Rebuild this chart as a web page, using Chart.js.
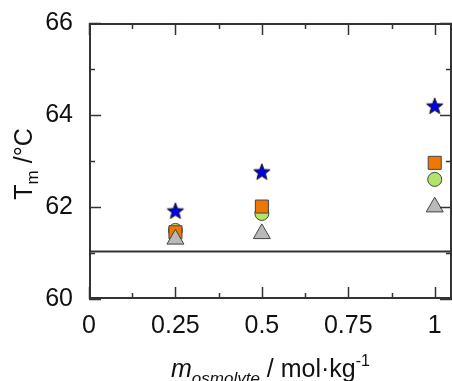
<!DOCTYPE html>
<html>
<head>
<meta charset="utf-8">
<script src="https://cdn.jsdelivr.net/npm/chart.js@4"></script>
<style>
  html, body { margin: 0; padding: 0; background: #fff; }
  #wrap { width: 452px; height: 381px; }
</style>
</head>
<body>
<div id="wrap"><canvas id="c" width="452" height="381"></canvas></div>
<script>
// molality of osmolyte (mol/kg)
const molality = [0.25, 0.5, 1];
const starTm = [61.92, 62.77, 64.2];
const squareTm = [61.45, 62.01, 62.96];
const circleTm = [61.49, 61.86, 62.6];
const triangleTm = [61.3, 61.42, 62.0];
const referenceTm = 61.03;
const xTicks = [0, 0.25, 0.5, 0.75, 1];
const yTicks = [60, 62, 64, 66];

const FONT = '"Liberation Sans", Arial, sans-serif';
const INK = '#333333';

// filled 5-point star marker
function makeStar(R, fill) {
  const size = Math.ceil(R * 2 + 4);
  const cv = document.createElement('canvas');
  cv.width = size; cv.height = size;
  const g = cv.getContext('2d');
  const cx = size / 2, cy = size / 2 + R * 0.1;
  const r = R * 0.42;
  g.beginPath();
  for (let i = 0; i < 10; i++) {
    const a = -Math.PI / 2 + i * Math.PI / 5;
    const rr = i % 2 === 0 ? R : r;
    const px = cx + Math.cos(a) * rr, py = cy + Math.sin(a) * rr;
    if (i === 0) g.moveTo(px, py); else g.lineTo(px, py);
  }
  g.closePath();
  g.fillStyle = fill;
  g.fill();
  g.strokeStyle = '#111';
  g.lineWidth = 1;
  g.stroke();
  return cv;
}

const pts = (ys) => molality.map((x, i) => ({ x: x, y: ys[i] }));

const frame = {
  id: 'frame',
  beforeDraw(chart) {
    const ctx = chart.ctx;
    ctx.save();
    ctx.fillStyle = '#fff';
    ctx.fillRect(0, 0, chart.width, chart.height);
    ctx.restore();
  },
  afterDatasetsDraw(chart) {
    const { ctx, chartArea: a, scales } = chart;
    const xs = scales.x, ys = scales.y;
    ctx.save();
    ctx.strokeStyle = INK;
    ctx.lineWidth = 2;
    ctx.strokeRect(a.left + 1, a.top + 1, a.right - a.left - 2, a.bottom - a.top - 2);
    ctx.lineWidth = 1.5;
    // x ticks, inward on bottom and top
    for (let v = 0; v <= 1.0001; v += 0.125) {
      const px = Math.round(xs.getPixelForValue(v)) + 0.5;
      const len = Math.abs(v / 0.25 - Math.round(v / 0.25)) < 1e-6 ? 12 : 6;
      ctx.beginPath();
      ctx.moveTo(px, a.bottom); ctx.lineTo(px, a.bottom - len);
      ctx.moveTo(px, a.top); ctx.lineTo(px, a.top + len);
      ctx.stroke();
    }
    // y ticks, inward on left and right
    for (let v = 60; v <= 66; v += 1) {
      const py = Math.round(ys.getPixelForValue(v)) + 0.5;
      const len = v % 2 === 0 ? 12 : 6;
      ctx.beginPath();
      ctx.moveTo(a.left, py); ctx.lineTo(a.left + len, py);
      ctx.moveTo(a.right, py); ctx.lineTo(a.right - len, py);
      ctx.stroke();
    }
    ctx.restore();
  },
  afterDraw(chart) {
    const ctx = chart.ctx;
    const a = chart.chartArea;
    ctx.save();
    ctx.fillStyle = '#111';
    ctx.textBaseline = 'alphabetic';
    // x title: m_osmolyte / mol·kg^-1
    const parts = [
      { t: 'm', f: 'italic 25px ' + FONT, dy: 0 },
      { t: 'osmolyte', f: 'italic 17px ' + FONT, dy: 7 },
      { t: ' / mol·kg', f: '25px ' + FONT, dy: 0 },
      { t: '-1', f: '16px ' + FONT, dy: -11 }
    ];
    let total = 0;
    parts.forEach(p => { ctx.font = p.f; p.w = ctx.measureText(p.t).width; total += p.w; });
    let x = (a.left + a.right) / 2 - total / 2;
    const base = 377;
    parts.forEach(p => { ctx.font = p.f; ctx.fillText(p.t, x, base + p.dy); x += p.w; });

    // y title: T_m /°C, rotated
    const yparts = [
      { t: 'T', f: '25px ' + FONT, dy: 0 },
      { t: 'm', f: '17px ' + FONT, dy: 6 },
      { t: ' /°C', f: '25px ' + FONT, dy: 0 }
    ];
    let ytot = 0;
    yparts.forEach(p => { ctx.font = p.f; p.w = ctx.measureText(p.t).width; ytot += p.w; });
    ctx.translate(32, 164);
    ctx.rotate(-Math.PI / 2);
    let yx = -ytot / 2;
    yparts.forEach(p => { ctx.font = p.f; ctx.fillText(p.t, yx, p.dy); yx += p.w; });
    ctx.restore();
  }
};

new Chart(document.getElementById('c'), {
  type: 'scatter',
  data: {
    datasets: [
      {
        label: 'reference',
        type: 'line',
        data: [{ x: 0, y: referenceTm }, { x: 1.05, y: referenceTm }],
        borderColor: INK,
        borderWidth: 2,
        pointRadius: 0,
        order: 5
      },
      {
        label: 'star',
        data: pts(starTm),
        pointStyle: makeStar(8.6, '#0000e6'),
        pointRadius: 9,
        order: 4
      },
      {
        label: 'circle',
        data: pts(circleTm),
        pointStyle: 'circle',
        pointRadius: 7,
        backgroundColor: '#b3e46a',
        borderColor: '#444',
        borderWidth: 1,
        order: 3
      },
      {
        label: 'square',
        data: pts(squareTm),
        pointStyle: 'rect',
        pointRadius: 9.2,
        backgroundColor: '#f07800',
        borderColor: '#444',
        borderWidth: 1,
        order: 2
      },
      {
        label: 'triangle',
        data: pts(triangleTm),
        pointStyle: 'triangle',
        pointRadius: 9.8,
        backgroundColor: '#b9b9b9',
        borderColor: '#444',
        borderWidth: 1,
        order: 1
      }
    ]
  },
  options: {
    responsive: false,
    animation: false,
    devicePixelRatio: 1,
    layout: { autoPadding: false, padding: { top: 23, right: 0, left: 0, bottom: 0 } },
    plugins: { legend: { display: false }, tooltip: { enabled: false } },
    scales: {
      x: {
        type: 'linear',
        min: 0,
        max: 1.05,
        afterBuildTicks: (s) => { s.ticks = xTicks.map(v => ({ value: v })); },
        afterFit: (s) => { s.height = 82; s.paddingLeft = 0; s.paddingRight = 0; },
        grid: { display: false, drawTicks: false },
        border: { display: false },
        ticks: {
          color: '#111',
          padding: 12,
          maxRotation: 0,
          font: { family: FONT, size: 25 },
          callback: (v) => String(v)
        }
      },
      y: {
        min: 60,
        max: 66,
        afterBuildTicks: (s) => { s.ticks = yTicks.map(v => ({ value: v })); },
        afterFit: (s) => { s.width = 89; s.paddingTop = 0; s.paddingBottom = 0; },
        grid: { display: false, drawTicks: false },
        border: { display: false },
        ticks: {
          color: '#111',
          padding: 16,
          font: { family: FONT, size: 25 },
          callback: (v) => String(v)
        }
      }
    }
  },
  plugins: [frame]
});
</script>
</body>
</html>
